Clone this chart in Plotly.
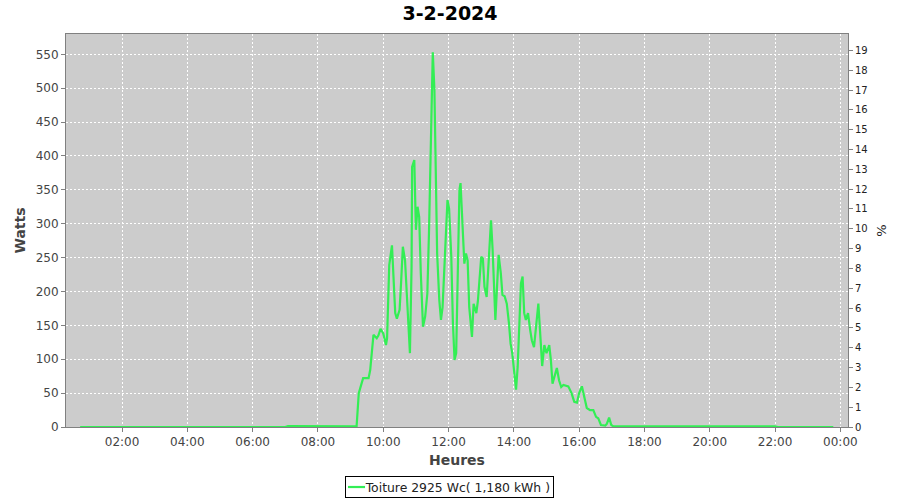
import plotly.graph_objects as go

DAY = "2024-02-03"
NEXT_DAY = "2024-02-04"
PEAK_WC = 2925
SERIES_NAME = "Toiture 2925 Wc( 1,180 kWh )"

times = [
    "00:43", "07:00", "07:05", "09:10", "09:11", "09:15", "09:19", "09:23", "09:33", "09:36",
    "09:42", "09:48", "09:51", "09:55", "10:00", "10:05", "10:07", "10:11", "10:16", "10:19",
    "10:22", "10:25", "10:30", "10:33", "10:36", "10:40", "10:45", "10:49", "10:52", "10:53",
    "10:57", "11:00", "11:03", "11:06", "11:09", "11:13", "11:17", "11:21", "11:24", "11:29",
    "11:31", "11:34", "11:37", "11:39", "11:43", "11:46", "11:49", "11:52", "11:55", "11:58",
    "12:01", "12:05", "12:08", "12:11", "12:14", "12:17", "12:20", "12:22", "12:25", "12:29",
    "12:32", "12:35", "12:38", "12:43", "12:46", "12:51", "12:54", "13:00", "13:03", "13:06",
    "13:10", "13:13", "13:18", "13:21", "13:24", "13:26", "13:30", "13:32", "13:36", "13:39",
    "13:43", "13:47", "13:51", "13:54", "13:57", "14:00", "14:04", "14:07", "14:10", "14:13",
    "14:16", "14:19", "14:22", "14:26", "14:30", "14:33", "14:37", "14:41", "14:45", "14:49",
    "14:52", "14:56", "15:00", "15:05", "15:08", "15:11", "15:14", "15:19", "15:23", "15:27",
    "15:31", "15:40", "15:46", "15:51", "15:56", "16:00", "16:05", "16:09", "16:14", "16:20",
    "16:26", "16:31", "16:35", "16:40", "16:48", "16:51", "16:55", "16:59", "17:03", "22:00",
    "22:05", "23:47",
]
watts = [
    0, 0, 1.5, 1.5, 1, 50, 60, 72, 72, 84,
    136, 131, 135, 145, 138, 121, 131, 239, 268, 212,
    168, 160, 173, 217, 266, 246, 173, 109, 236, 384,
    394, 291, 325, 310, 227, 148, 163, 197, 286, 507,
    553, 497, 325, 256, 187, 158, 177, 227, 266, 335,
    322, 251, 153, 99, 109, 227, 350, 360, 300, 241,
    256, 246, 177, 133, 182, 168, 187, 251, 249, 207,
    192, 236, 305, 261, 187, 158, 222, 254, 227, 195,
    193, 182, 153, 123, 109, 84, 55, 89, 168, 212,
    222, 168, 158, 168, 143, 128, 118, 153, 182, 130,
    90, 121, 109, 121, 99, 64, 74, 87, 69, 59,
    62, 60, 50, 37, 36, 50, 60, 45, 28, 25,
    25, 15, 13, 3, 2, 5, 14, 3, 1, 1,
    0, 0,
]

y_max = 580
y_ticks = list(range(0, 551, 50))
pct_ticks = list(range(0, 20))

x_vals = [f"{DAY} {t}" for t in times]
pct_vals = [w / PEAK_WC * 100 for w in watts]

line_color = "#33ee55"
font_family = "DejaVu Sans"

fig = go.Figure()
fig.add_trace(go.Scatter(
    x=x_vals, y=watts, mode="lines",
    line=dict(color=line_color, width=2.2),
    name=SERIES_NAME, showlegend=False,
))
fig.add_trace(go.Scatter(
    x=x_vals, y=pct_vals, mode="lines", yaxis="y2",
    line=dict(color="rgba(0,0,0,0)", width=0),
    showlegend=False, hoverinfo="skip",
))

grid = dict(showgrid=True, gridcolor="white", gridwidth=1, griddash="2px,2px")

# legend box (annotation with border) and its line sample
legend_y = -0.1527
fig.add_annotation(
    xref="paper", yref="paper", x=0.4904, y=legend_y,
    xanchor="center", yanchor="middle",
    text=SERIES_NAME, showarrow=False, align="right",
    width=201, height=14, borderpad=3,
    bordercolor="black", borderwidth=1, bgcolor="rgba(0,0,0,0)",
    font=dict(size=12.4, color="#222222", family=font_family),
)
fig.add_shape(
    type="line", xref="paper", yref="paper",
    x0=0.3606, x1=0.3824, y0=legend_y, y1=legend_y,
    line=dict(color=line_color, width=2.2),
)

fig.update_layout(
    width=900, height=500,
    paper_bgcolor="white", plot_bgcolor="#cccccc",
    margin=dict(l=66, r=52, t=34, b=73, autoexpand=False),
    font=dict(family=font_family, size=12, color="#444444"),
    title=dict(text="<b>3-2-2024</b>", x=0.5, xanchor="center",
               yref="container", y=0.974, yanchor="middle",
               font=dict(family=font_family, size=19, color="black"),
               automargin=False),
    xaxis=dict(
        type="date",
        range=[f"{DAY} 00:17", f"{NEXT_DAY} 00:14"],
        tick0=f"{DAY} 00:00", dtick=2 * 3600 * 1000,
        tickformat="%H:%M",
        ticks="outside", ticklen=4, tickcolor="#808080",
        showline=True, linecolor="#808080", linewidth=1, mirror=True,
        title=dict(text="<b>Heures</b>", font=dict(size=14, color="#444444"), standoff=6),
        zeroline=False, automargin=False,
        **grid,
    ),
    yaxis=dict(
        range=[0, y_max],
        tickvals=y_ticks,
        ticks="outside", ticklen=4, tickcolor="#808080",
        showline=True, linecolor="#808080", linewidth=1, mirror=True,
        title=dict(text="<b>Watts</b>", font=dict(size=14, color="#444444"), standoff=6),
        zeroline=False, automargin=False,
        **grid,
    ),
    yaxis2=dict(
        overlaying="y", side="right",
        range=[0, y_max / PEAK_WC * 100],
        tickvals=pct_ticks,
        ticks="outside", ticklen=4, tickcolor="#808080",
        showgrid=False, zeroline=False, automargin=False,
        tickfont=dict(size=10, color="#222222"),
        title=dict(text="%", font=dict(size=13, color="#222222"), standoff=10),
    ),
    showlegend=False,
)

fig.write_html("out.html", config={"displayModeBar": False},
               post_script="document.body.style.margin='0';")
